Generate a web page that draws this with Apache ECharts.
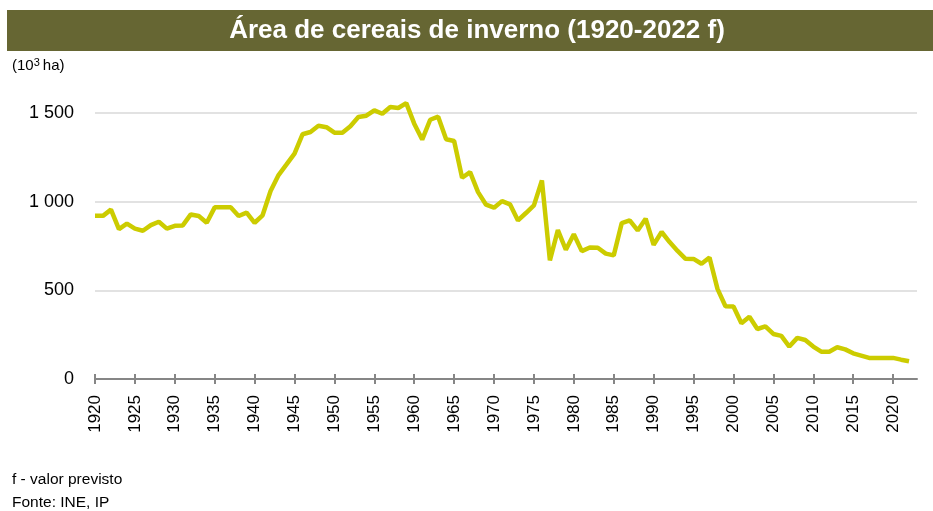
<!DOCTYPE html>
<html>
<head>
<meta charset="utf-8">
<script src="https://cdn.jsdelivr.net/npm/echarts@6/dist/echarts.min.js"></script>
<style>
  html, body { margin: 0; padding: 0; background: #fff; }
  #chart { width: 933px; height: 511px; }
</style>
</head>
<body>
<div id="chart"></div>
<script>
// area in 10^3 ha, 1920..2022 (2022 = forecast)
const firstYear = 1920
const area = [
    920, 920, 955, 845, 876, 848, 836, 868, 887, 848,
    864, 866, 928, 919, 881, 968, 968, 968, 919, 938,
    881, 923, 1060, 1150, 1210, 1271, 1380, 1393, 1428, 1420,
    1389, 1389, 1425, 1477, 1485, 1515, 1496, 1534, 1528, 1556,
    1440, 1350, 1462, 1479, 1352, 1342, 1135, 1167, 1054, 983,
    966, 1003, 985, 894, 936, 979, 1120, 669, 840, 729,
    816, 721, 742, 740, 707, 697, 879, 894, 838, 904,
    757, 829, 772, 722, 678, 677, 650, 685, 508, 410,
    409, 314, 351, 282, 297, 254, 243, 183, 232, 220,
    183, 154, 154, 179, 167, 145, 132, 119, 119, 119,
    119, 109, 100
]
const yTicks = [0, 500, 1000, 1500]

// one empty slot after 2022 so the axis runs a bit past the last point
const years = []
for (let i = 0; i <= area.length; i++) years.push(String(firstYear + i))

const chart = echarts.init(document.getElementById('chart'))

const font = '"Liberation Sans", Arial, sans-serif'

const option = {
    animation: false,
    grid: { left: 95, right: 16, top: 113, bottom: 132 },
    graphic: [
        {
            type: 'rect',
            shape: { x: 7, y: 10, width: 926, height: 41 },
            style: { fill: '#666633' },
            z: 0
        },
        {
            type: 'text',
            x: 477, y: 31,
            style: {
                text: 'Área de cereais de inverno (1920-2022 f)',
                fill: '#ffffff',
                font: 'bold 26px ' + font,
                textAlign: 'center',
                textVerticalAlign: 'middle'
            },
            z: 1
        },
        {
            type: 'text',
            x: 12, y: 66,
            style: {
                text: '(10{sup|3}ha)',
                fill: '#000',
                font: '15px ' + font,
                textVerticalAlign: 'middle',
                rich: {
                    sup: { fontSize: 11, fontFamily: font, verticalAlign: 'top', padding: [0, 3, 6, 0] }
                }
            }
        },
        {
            type: 'text',
            x: 12, y: 480,
            style: {
                text: 'f - valor previsto',
                fill: '#000',
                font: '15.5px ' + font,
                textVerticalAlign: 'middle'
            }
        },
        {
            type: 'text',
            x: 12, y: 503,
            style: {
                text: 'Fonte: INE, IP',
                fill: '#000',
                font: '15.5px ' + font,
                textVerticalAlign: 'middle'
            }
        }
    ],
    xAxis: [
        {
            type: 'category',
            data: years,
            boundaryGap: false,
            axisLine: { lineStyle: { color: '#868686', width: 2 } },
            axisTick: {
                length: 5,
                interval: (i) => i % 5 === 0,
                lineStyle: { color: '#868686', width: 2 }
            },
            axisLabel: {
                rotate: 90,
                margin: 16,
                interval: (i) => i % 5 === 0,
                color: '#000',
                fontSize: 17,
                fontFamily: font
            },
            splitLine: { show: false }
        },
        {
            type: 'category',
            data: years,
            boundaryGap: false,
            position: 'bottom',
            axisLine: { show: false },
            axisTick: {
                inside: true,
                length: 5,
                interval: (i) => i % 5 === 0,
                lineStyle: { color: '#868686', width: 2 }
            },
            axisLabel: { show: false },
            splitLine: { show: false }
        }
    ],
    yAxis: {
        type: 'value',
        min: yTicks[0],
        max: yTicks[yTicks.length - 1],
        interval: 500,
        axisLine: { show: false },
        axisTick: { show: false },
        axisLabel: {
            margin: 21,
            color: '#000',
            fontSize: 18,
            fontFamily: font,
            formatter: (v) => v >= 1000 ? String(v).replace(/(\d)(\d{3})$/, '$1 $2') : String(v)
        },
        splitLine: { lineStyle: { color: '#d9d9d9', width: 1.5 } }
    },
    series: [
        {
            type: 'line',
            data: area,
            showSymbol: false,
            clip: false,
            lineStyle: { color: '#cccc00', width: 4.5 },
            z: 3
        }
    ]
}

chart.setOption(option)
</script>
</body>
</html>
